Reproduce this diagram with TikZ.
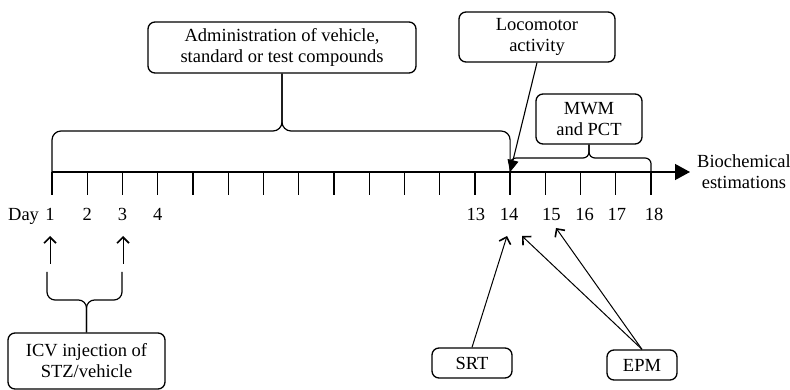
\documentclass[tikz,border=0pt]{standalone}
\usepackage{fontspec}
\setmainfont{Liberation Serif}
\usetikzlibrary{arrows.meta, positioning}
\tikzstyle{event} = [rectangle, draw, rounded corners=7pt, line width=1.3pt, align=center, inner sep=0pt, font=\fontsize{18.5}{21}\selectfont]
\tikzstyle{daylabel} = [inner sep=0pt, text height=13pt, text depth=4pt, font=\fontsize{18.5}{21}\selectfont]
\tikzstyle{axis} = [-{Triangle[length=15pt,width=16pt]}, line width=1.3pt]
\tikzstyle{tick} = [line width=1.3pt]
\tikzstyle{brace} = [line width=1.2pt, rounded corners=9pt]
\tikzstyle{pointer} = [-{Straight Barb[length=6pt,width=12pt,line width=1.6pt]}, line width=1pt]
\tikzstyle{solidpointer} = [-{Triangle[length=12pt,width=11pt]}, line width=1.1pt]

\begin{document}
\begin{tikzpicture}[x=1pt, y=-1pt]
  \useasboundingbox (0,0) rectangle (790,390);

  % time axis with one tick per day
  \foreach \i in {1,...,18} {
    \coordinate (d\i) at ({52+35.24*(\i-1)},172);
    \coordinate (e\i) at ({52+35.24*(\i-1)},195);
    \draw[tick] (d\i) -- (e\i);
  }
  \coordinate (axend) at (690,172);
  \draw[axis] (d1) -- (axend);
  \node[daylabel, text height=, text depth=, align=center, right=7pt of axend] (bio) {Biochemical\\estimations};

  % day numbers
  \foreach \d/\dx in {1/-2,2/0,3/0,4/0,13/1,14/-1,15/6,16/4,17/1,18/3}
    \node[daylabel] (l\d) at ({52+35.24*(\d-1)+\dx},216) {\d};
  \node[daylabel, left=6pt of l1] (day) {Day};

  % boxes
  \node[event, minimum width=268pt, minimum height=51pt] (admin) at (282,47.5) {Administration of vehicle,\\standard or test compounds};
  \node[event, minimum width=156pt, minimum height=50pt] (loco) at (537,37) {Locomotor\\activity};
  \node[event, minimum width=106pt, minimum height=50pt] (mwm) at (589,119) {MWM\\and PCT};
  \node[event, minimum width=157pt, minimum height=56pt] (icv) at (86.5,361) {ICV injection of\\STZ/vehicle};
  \node[event, minimum width=80pt, minimum height=30pt] (srt) at (472,363) {SRT};
  \node[event, minimum width=70pt, minimum height=30pt] (epm) at (642,365) {EPM};

  % braces
  \coordinate (admbrace) at (admin.south |- 0,131);
  \draw[brace] (d1) |- (admbrace) -- (admin.south);
  \draw[brace] (d14) |- (admbrace) -- (admin.south);
  \coordinate (mwmbrace) at (mwm.south |- 0,158);
  \draw[brace, rounded corners=6pt] (d14) |- (mwmbrace) -- (mwm.south);
  \draw[brace, rounded corners=6pt] (d18) |- (mwmbrace) -- (mwm.south);
  \coordinate (ib1) at (47,272);
  \coordinate (ib3) at (122,272);
  \coordinate (icvbrace) at (icv.north |- 0,300);
  \draw[brace, rounded corners=8pt] (ib1) |- (icvbrace) -- (icv.north);
  \draw[brace, rounded corners=8pt] (ib3) |- (icvbrace) -- (icv.north);

  % arrows
  \coordinate (a1) at (50,264);
  \coordinate (t1) at (50,236);
  \coordinate (a3) at (123,264);
  \coordinate (t3) at (123,236);
  \draw[pointer] (a1) -- (t1);
  \draw[pointer] (a3) -- (t3);
  \coordinate (s14) at (507,236);
  \coordinate (p14) at (522,236);
  \coordinate (p15) at (556,228);
  \draw[pointer] (srt.north) -- (s14);
  \draw[pointer] (epm.north) -- (p14);
  \draw[pointer] (epm.north) -- (p15);
  \draw[solidpointer] (loco.south) -- (d14);
\end{tikzpicture}
\end{document}
